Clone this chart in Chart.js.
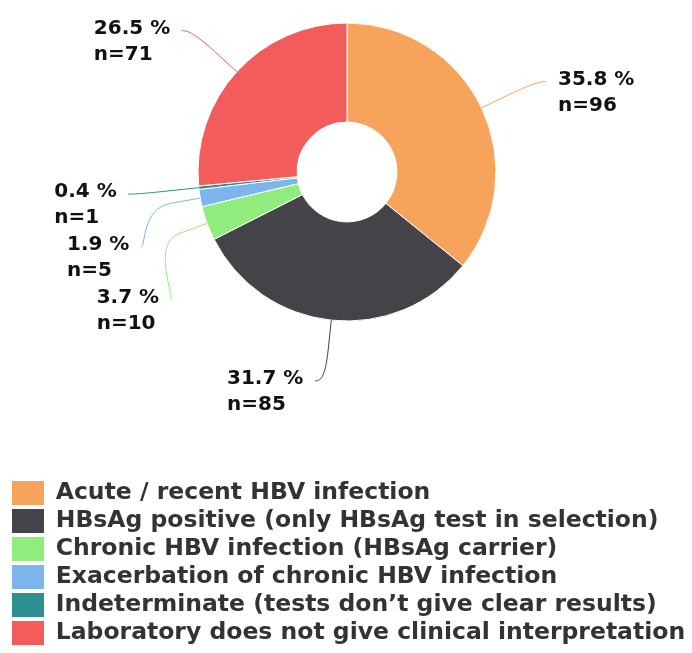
<!DOCTYPE html>
<html>
<head>
<meta charset="utf-8">
<script src="https://cdn.jsdelivr.net/npm/chart.js@4/dist/chart.umd.min.js"></script>
<style>
  html, body { margin: 0; padding: 0; background: #ffffff; }
  #wrap { width: 692px; height: 653px; }
</style>
</head>
<body>
<div id="wrap"><canvas id="c" width="692" height="653"></canvas></div>
<script>
const categories = [
  'Acute / recent HBV infection',
  'HBsAg positive (only HBsAg test in selection)',
  'Chronic HBV infection (HBsAg carrier)',
  'Exacerbation of chronic HBV infection',
  'Indeterminate (tests don\u2019t give clear results)',
  'Laboratory does not give clinical interpretation'
];
const counts = [96, 85, 10, 5, 1, 71];
const sliceColors = ['#f7a35c', '#434348', '#90ed7d', '#7cb5ec', '#2b908f', '#f45b5b'];

const LABEL_DIST = 61;   // distance of label ring beyond outer radius
const BREAK_DIST = 30;   // where the connector bends
const ROW_GAP = 53;      // min vertical spacing between stacked labels
const LABEL_FONT = 'bold 20px "DejaVu Sans"';

const sliceLabels = {
  id: 'sliceLabels',
  afterDatasetsDraw(chart) {
    const meta = chart.getDatasetMeta(0);
    const data = chart.data.datasets[0].data;
    const colors = chart.data.datasets[0].backgroundColor;
    const total = data.reduce((a, b) => a + b, 0);
    const ctx = chart.ctx;
    const items = meta.data.map((arc, i) => {
      const p = arc.getProps(['x', 'y', 'startAngle', 'endAngle', 'outerRadius'], true);
      const mid = (p.startAngle + p.endAngle) / 2;
      const R = p.outerRadius + LABEL_DIST;
      return { i, p, mid, R, left: Math.cos(mid) < 0, ny: p.y + Math.sin(mid) * R };
    });
    [true, false].forEach(isLeft => {
      const group = items.filter(it => it.left === isLeft).sort((a, b) => a.ny - b.ny);
      let prev = -Infinity;
      group.forEach(it => { it.ly = Math.max(it.ny, prev + ROW_GAP); prev = it.ly; });
    });
    ctx.save();
    items.forEach(it => {
      const { p, mid, R, left, ly } = it;
      const dir = left ? -1 : 1;
      const dy = ly - p.y;
      const cx = p.x + dir * Math.sqrt(Math.max(R * R - dy * dy, 0));
      const tx = p.x + Math.cos(mid) * p.outerRadius;
      const ty = p.y + Math.sin(mid) * p.outerRadius;
      const bx = p.x + Math.cos(mid) * (p.outerRadius + BREAK_DIST);
      const by = p.y + Math.sin(mid) * (p.outerRadius + BREAK_DIST);
      const ax = cx + dir * 10;
      ctx.beginPath();
      ctx.moveTo(ax, ly);
      ctx.bezierCurveTo(cx + dir * 5, ly, 2 * bx - tx, 2 * by - ty, bx, by);
      ctx.lineTo(tx, ty);
      ctx.strokeStyle = colors[it.i];
      ctx.lineWidth = 1;
      ctx.stroke();
      ctx.font = LABEL_FONT;
      ctx.fillStyle = '#111111';
      ctx.textAlign = 'left';
      ctx.textBaseline = 'alphabetic';
      const v = data[it.i];
      const l1 = (v / total * 100).toFixed(1) + ' %';
      const l2 = 'n=' + v;
      const w = Math.max(ctx.measureText(l1).width, ctx.measureText(l2).width);
      const textX = left ? ax - 11.5 - w : ax + 11.5;
      ctx.fillText(l1, textX, ly + 3);
      ctx.fillText(l2, textX, ly + 29);
    });
    ctx.restore();
  }
};

const baseGen = Chart.overrides.doughnut.plugins.legend.labels.generateLabels;

new Chart(document.getElementById('c'), {
  type: 'doughnut',
  data: {
    labels: categories,
    datasets: [{
      data: counts,
      backgroundColor: sliceColors,
      borderColor: '#ffffff',
      borderWidth: 1,
      hoverOffset: 0
    }]
  },
  options: {
    responsive: false,
    animation: false,
    devicePixelRatio: 1,
    radius: 149,
    cutout: '33.5%',
    layout: { padding: { left: 8, right: 6, top: 0, bottom: -2 } },
    plugins: {
      tooltip: { enabled: false },
      legend: {
        position: 'bottom',
        align: 'start',
        title: { display: true, text: '', font: { size: 10, lineHeight: 1 }, padding: { top: 0, bottom: 123 } },
        labels: {
          boxWidth: 32,
          boxHeight: 24,
          padding: 4,
          color: '#333333',
          font: { family: '"DejaVu Sans"', size: 23.5, weight: 'bold' },
          generateLabels(chart) {
            return baseGen(chart).map(l => Object.assign(l, { lineWidth: 0, strokeStyle: 'rgba(0,0,0,0)' }));
          }
        }
      }
    }
  },
  plugins: [sliceLabels]
});
</script>
</body>
</html>
